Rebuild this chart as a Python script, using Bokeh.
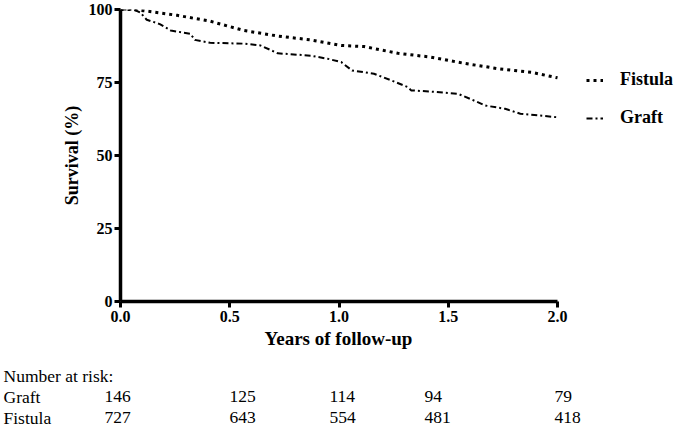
from bokeh.plotting import figure
from bokeh.models import Range1d, Legend, LegendItem, FixedTicker, ColumnDataSource
from bokeh.layouts import column
from bokeh.core.properties import value
from bokeh.embed import file_html
from bokeh.resources import INLINE

# ---- data ----
fistula_t = [0.0, 0.05, 0.105, 0.26, 0.41, 0.565, 0.72, 0.87, 1.01, 1.115, 1.27, 1.42, 1.57, 1.73, 1.88, 2.0]
fistula_s = [100, 100, 99.6, 98.0, 96.0, 92.8, 90.9, 89.6, 87.7, 87.3, 85.0, 83.7, 81.6, 79.7, 78.5, 76.6]

graft_t = [0.0, 0.06, 0.09, 0.12, 0.18, 0.23, 0.32, 0.34, 0.41, 0.565, 0.64, 0.72, 0.87, 0.95, 1.01,
           1.06, 1.16, 1.24, 1.315, 1.33, 1.42, 1.545, 1.6, 1.67, 1.76, 1.83, 2.0]
graft_s = [100, 100, 99.0, 96.5, 95.0, 92.8, 91.7, 89.6, 88.6, 88.3, 87.7, 85.0, 84.2, 83.1, 82.0,
           79.1, 78.0, 75.7, 73.4, 72.3, 71.9, 71.1, 69.4, 67.1, 66.0, 64.3, 63.1]

x_ticks = [0.0, 0.5, 1.0, 1.5, 2.0]
y_ticks = [0, 25, 50, 75, 100]
x_title = "Years of follow-up"
y_title = "Survival (%)"

risk_title = "Number at risk:"
risk_groups = ["Graft", "Fistula"]
graft_at_risk = [146, 125, 114, 94, 79]
fistula_at_risk = [727, 643, 554, 481, 418]

# ---- layout constants (pixels) ----
SERIF = "Liberation Serif"
W = 676
H_MAIN = 329
H_TABLE = 97
LEFT = 120          # frame left
AXIS_END_PX = 557   # where x = 2.0 sits
X_MAX = 2.0
x_view_end = X_MAX * (W - LEFT) / (AXIS_END_PX - LEFT)   # room on the right for the legend
x_title_pos = (338, 9)
col_x = [104, 229, 329, 424, 554]
row_y = [46, 67, 88]
label_x = 3

p = figure(width=W, height=H_MAIN, output_backend="svg", toolbar_location=None,
           x_range=Range1d(0, x_view_end), y_range=Range1d(0, 100),
           min_border_left=LEFT, min_border_right=0, min_border_top=9, min_border_bottom=28)
p.outline_line_color = None
p.xgrid.visible = False
p.ygrid.visible = False
p.frame_align = False

r_f = p.line(fistula_t, fistula_s, line_color="black", line_width=3, line_dash="3 4")
r_g = p.line(graft_t, graft_s, line_color="black", line_width=2, line_dash="6 3 2 3")

for ax in (p.xaxis[0], p.yaxis[0]):
    ax.axis_line_width = 3.5
    ax.axis_line_color = "black"
    ax.major_tick_line_width = 3
    ax.major_tick_line_color = "black"
    ax.major_tick_out = 6
    ax.major_tick_in = 0
    ax.minor_tick_line_color = None
    ax.major_label_text_font = SERIF
    ax.major_label_text_font_style = "bold"
    ax.major_label_text_font_size = "16px"
    ax.major_label_text_color = "black"
    ax.axis_label_text_font = SERIF
    ax.axis_label_text_font_style = "bold"
    ax.axis_label_text_font_size = "18px"
    ax.axis_label_text_color = "black"

p.xaxis.bounds = (0, X_MAX)
p.xaxis.ticker = FixedTicker(ticks=x_ticks)
p.yaxis.ticker = FixedTicker(ticks=y_ticks)
p.xaxis.major_label_overrides = {t: f"{t:.1f}" for t in x_ticks}
p.yaxis.axis_label = y_title
p.xaxis.major_label_standoff = 3
p.yaxis.major_label_standoff = 2
p.yaxis.axis_label_standoff = 4

legend = Legend(items=[LegendItem(label="Fistula", renderers=[r_f]),
                       LegendItem(label="Graft", renderers=[r_g])],
                location=(466, 173), orientation="vertical")
legend.border_line_color = None
legend.background_fill_alpha = 0
legend.padding = 0
legend.margin = 0
legend.glyph_width = 17
legend.glyph_height = 16
legend.label_height = 16
legend.spacing = 17
legend.label_standoff = 17
legend.label_text_font = SERIF
legend.label_text_font_style = "bold"
legend.label_text_font_size = "18px"
legend.label_text_color = "black"
p.add_layout(legend, "center")

# ---- x title + number at risk table ----
t = figure(width=W, height=H_TABLE, output_backend="svg", toolbar_location=None,
           x_range=Range1d(0, W), y_range=Range1d(H_TABLE, 0),
           x_axis_type=None, y_axis_type=None, min_border=0)
t.outline_line_color = None
t.xgrid.visible = False
t.ygrid.visible = False
t.frame_align = False

t.text(x=[x_title_pos[0]], y=[x_title_pos[1]], text=[x_title], text_font=value(SERIF),
       text_font_size="19px", text_font_style="bold", text_baseline="middle",
       text_align="center", text_color="black")

txt, xs, ys = [risk_title], [label_x], [row_y[0]]
for i, (name, vals) in enumerate(zip(risk_groups, [graft_at_risk, fistula_at_risk])):
    txt.append(name); xs.append(label_x); ys.append(row_y[i + 1])
    for cx, v in zip(col_x, vals):
        txt.append(str(v)); xs.append(cx); ys.append(row_y[i + 1])
src = ColumnDataSource(dict(x=xs, y=ys, text=txt))
t.text(x="x", y="y", text="text", source=src, text_font=value(SERIF), text_font_size="17.5px",
       text_baseline="middle", text_align="left", text_color="black")

layout = column(p, t, spacing=0)
open("out.html", "w").write(file_html(layout, INLINE))
